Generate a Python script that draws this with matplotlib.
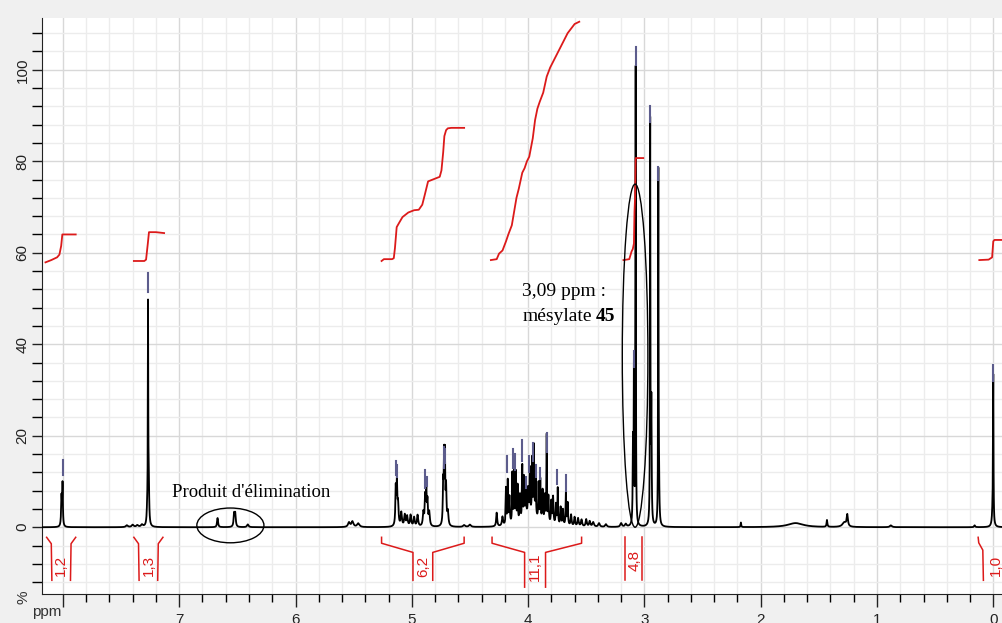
import numpy as np
import matplotlib
matplotlib.use('Agg')
import matplotlib.pyplot as plt
from matplotlib.patches import Ellipse
from matplotlib.ticker import MultipleLocator

# peak list: ppm, height (%), half width (ppm)
pk_8 = [(8.012, 6.5, 0.004), (8.003, 9.0, 0.003)]
pk_arom = [(7.45, 0.4, 0.01), (7.40, 0.5, 0.01), (7.36, 0.4, 0.01), (7.32, 0.5, 0.01),
           (7.268, 46.0, 0.002), (7.262, 9.0, 0.004), (7.275, 3.0, 0.005)]
pk_elim = [(6.67, 2.0, 0.005), (6.528, 2.8, 0.005), (6.518, 2.8, 0.005), (6.41, 0.6, 0.008)]
pk_55 = [(5.54, 1.0, 0.01), (5.51, 1.2, 0.01), (5.46, 0.8, 0.012)]
pk_513 = [(5.138, 8.0, 0.004), (5.128, 9.0, 0.004), (5.118, 4.5, 0.005),
          (5.09, 3.0, 0.006), (5.06, 2.5, 0.006), (5.04, 2.2, 0.006),
          (5.01, 2.5, 0.006), (4.98, 2.0, 0.006), (4.95, 2.5, 0.006)]
pk_488 = [(4.90, 3.0, 0.006), (4.885, 6.0, 0.004), (4.875, 7.0, 0.004),
          (4.865, 5.0, 0.004), (4.85, 3.0, 0.006)]
pk_472 = [(4.73, 9.0, 0.004), (4.722, 13.5, 0.003), (4.715, 14.0, 0.003),
          (4.705, 8.0, 0.004), (4.69, 3.0, 0.006), (4.55, 0.4, 0.01), (4.50, 0.5, 0.01)]
pk_4 = [(4.27, 3.0, 0.005), (4.22, 2.0, 0.006), (4.19, 8.0, 0.003), (4.175, 9.5, 0.003),
        (4.16, 6.0, 0.004), (4.135, 11.0, 0.003), (4.12, 12.0, 0.003), (4.105, 11.0, 0.003),
        (4.09, 8.0, 0.003), (4.07, 6.0, 0.004), (4.05, 12.0, 0.003), (4.035, 9.0, 0.003),
        (4.02, 7.0, 0.004), (4.00, 6.0, 0.004), (3.985, 10.0, 0.003), (3.965, 12.0, 0.003),
        (3.95, 15.0, 0.003), (3.935, 9.0, 0.003), (3.91, 8.0, 0.003), (3.895, 9.0, 0.003),
        (3.875, 7.0, 0.004), (3.855, 6.0, 0.004), (3.84, 19.0, 0.002), (3.825, 6.0, 0.004),
        (3.80, 5.0, 0.004), (3.785, 6.0, 0.004), (3.76, 4.5, 0.004), (3.745, 8.0, 0.003),
        (3.72, 4.0, 0.004), (3.70, 3.5, 0.004), (3.675, 7.0, 0.003), (3.66, 5.0, 0.004),
        (3.63, 2.5, 0.005), (3.60, 2.0, 0.005), (3.57, 1.8, 0.006), (3.54, 1.5, 0.006),
        (3.50, 1.6, 0.006), (3.47, 1.2, 0.006), (3.44, 1.0, 0.008), (3.39, 0.8, 0.008),
        (3.33, 0.6, 0.008), (3.97, 2.5, 0.06)]
pk_mes = [(3.20, 0.8, 0.008), (3.16, 0.6, 0.008), (3.098, 18.0, 0.003), (3.09, 34.0, 0.002),
          (3.075, 100.0, 0.002), (2.95, 87.5, 0.002), (2.94, 26.0, 0.003),
          (2.88, 75.0, 0.002), (2.875, 9.0, 0.004)]
pk_ali = [(2.17, 1.0, 0.003), (1.70, 0.9, 0.08), (1.43, 1.5, 0.004), (1.28, 1.0, 0.02),
          (1.255, 2.5, 0.006), (0.88, 0.4, 0.01), (0.16, 0.4, 0.005),
          (0.0, 30.0, 0.002), (0.004, 5.0, 0.006)]

# peak picking marks (ppm, from, to)
marks = [(8.003, 11.5, 14.8), (7.268, 51.5, 55.5), (5.135, 11.5, 14.5), (5.125, 11.0, 13.5),
         (4.885, 8.5, 12.5), (4.872, 9.0, 11.0), (4.725, 13.0, 17.5), (4.715, 14.0, 17.0),
         (4.18, 12.0, 15.5), (4.13, 13.0, 17.0), (4.11, 12.5, 16.0), (4.05, 14.5, 19.0),
         (4.02, 8.5, 11.0), (3.99, 12.0, 15.5), (3.96, 14.5, 18.5), (3.93, 11.0, 13.5),
         (3.90, 10.5, 13.0), (3.84, 16.5, 20.5), (3.75, 9.5, 12.5), (3.67, 8.0, 11.5),
         (3.09, 35.0, 38.5), (3.075, 101.0, 105.0), (2.95, 88.5, 92.0), (2.88, 75.8, 78.8),
         (0.0, 32.0, 35.5)]

# integral curves (ppm, level)
int_1 = ([8.15, 8.10, 8.05, 8.03, 8.015, 8.005, 7.99, 7.89], [57.9, 58.4, 59.0, 59.6, 61.5, 64.0, 64.0, 64.0])
int_2 = ([7.39, 7.30, 7.285, 7.27, 7.26, 7.20, 7.13], [58.2, 58.2, 58.5, 62.0, 64.5, 64.5, 64.3])
int_3 = ([5.26, 5.24, 5.17, 5.155, 5.145, 5.13, 5.11, 5.08, 5.03, 4.98, 4.94, 4.91, 4.89, 4.86,
          4.84, 4.80, 4.76, 4.745, 4.73, 4.72, 4.705, 4.69, 4.66, 4.55],
         [58.2, 58.6, 58.6, 58.8, 61.0, 65.6, 66.5, 67.8, 68.8, 69.3, 69.4, 70.5, 72.5, 75.6,
          75.8, 76.2, 76.6, 78.0, 82.0, 85.5, 86.8, 87.2, 87.3, 87.3])
int_4 = ([4.32, 4.27, 4.25, 4.22, 4.19, 4.17, 4.14, 4.12, 4.10, 4.08, 4.05, 4.03, 4.01, 3.99,
          3.96, 3.94, 3.92, 3.90, 3.87, 3.84, 3.81, 3.78, 3.75, 3.72, 3.69, 3.66, 3.63, 3.60, 3.56],
         [58.4, 58.6, 59.8, 60.5, 62.5, 64.0, 66.0, 69.0, 72.0, 74.0, 77.5, 78.5, 80.0, 81.0,
          85.0, 89.0, 91.5, 93.0, 95.0, 98.5, 100.5, 102.0, 103.5, 105.0, 106.5, 108.0, 109.0,
          110.0, 110.5])
int_5 = ([3.18, 3.13, 3.11, 3.10, 3.09, 3.085, 3.08, 3.075, 3.07, 3.01],
         [58.4, 58.6, 60.3, 60.8, 62.0, 69.0, 72.0, 80.7, 80.7, 80.7])
int_6 = ([0.12, 0.04, 0.01, 0.0, -0.01, -0.09], [58.4, 58.5, 59.0, 62.5, 62.8, 62.8])

int_labels = ['1,2', '1,3', '6,2', '11,1', '4,8', '1,0']
int_label_x = [8.02, 7.26, 4.90, 3.94, 3.085, -0.02]

red = '#dc1a1a'
plt.rcParams['font.family'] = ['Liberation Sans', 'DejaVu Sans']

fig = plt.figure(figsize=(10.02, 6.23), dpi=100, facecolor='#f0f0f0')
ax = fig.add_axes([0.0419, 0.0465, 0.9581, 0.9245])
ax.set_facecolor('white')

xs = np.linspace(-0.1, 8.2, 60000)
ys = np.zeros_like(xs)
for grp in [pk_8, pk_arom, pk_elim, pk_55, pk_513, pk_488, pk_472, pk_4, pk_mes, pk_ali]:
    for p, h, w in grp:
        ys += h * w**2 / ((xs - p)**2 + w**2)
ax.plot(xs, ys, color='black', lw=1.3, zorder=3)

for p, a, b in marks:
    ax.plot([p, p], [a, b], color='#5c5c8c', lw=1.5, zorder=4)

for xi, yi in [int_1, int_2, int_3, int_4, int_5, int_6]:
    ax.plot(xi, yi, color=red, lw=1.3, zorder=5)

# brackets under the integrals
def narrow(l, r, lab_x, label):
    ax.plot([l, l - 0.04, l - 0.045], [-2.2, -3.6, -11.6], color=red, lw=1.1)
    ax.plot([r, r + 0.04, r + 0.045], [-2.2, -3.6, -11.6], color=red, lw=1.1)
    ax.text(lab_x, -8.3, label, rotation=90, color=red, fontsize=11, ha='center', va='center')

def wide(l, r, il, ir, lab_x, label, bot):
    ax.plot([l, l, il, il], [-2.2, -3.5, -5.5, bot], color=red, lw=1.1)
    ax.plot([r, r, ir, ir], [-2.2, -3.5, -5.5, bot], color=red, lw=1.1)
    ax.text(lab_x, -8.6, label, rotation=90, color=red, fontsize=11, ha='center', va='center')

narrow(8.14, 7.89, int_label_x[0], int_labels[0])
narrow(7.39, 7.14, int_label_x[1], int_labels[1])
wide(5.26, 4.55, 4.99, 4.82, int_label_x[2], int_labels[2], -11.6)
wide(4.31, 3.54, 4.03, 3.85, int_label_x[3], int_labels[3], -13.1)
ax.plot([3.17, 3.17], [-2.2, -11.6], color=red, lw=1.1)
ax.plot([3.02, 3.02], [-2.2, -11.6], color=red, lw=1.1)
ax.text(int_label_x[4], -7.3, int_labels[4], rotation=90, color=red, fontsize=11, ha='center', va='center')
ax.plot([0.13, 0.125, 0.09, 0.085], [-2.2, -3.4, -5.0, -11.6], color=red, lw=1.1)
ax.text(int_label_x[5], -8.3, int_labels[5], rotation=90, color=red, fontsize=11, ha='center', va='center')

# annotations
ax.add_patch(Ellipse((6.56, 0.4), 0.577, 7.6, fill=False, ec='black', lw=1.0, zorder=6))
ax.add_patch(Ellipse((3.08, 37.5), 0.22, 75, fill=False, ec='black', lw=1.0, zorder=6))
serif = ['Liberation Serif', 'DejaVu Serif']
ax.text(7.06, 7.6, "Produit d'élimination", family=serif, fontsize=13.5, ha='left', va='center', zorder=7)
ax.text(4.05, 51.6, "3,09 ppm :", family=serif, fontsize=14, ha='left', va='center', zorder=7)
t = ax.text(4.05, 46.1, "mésylate", family=serif, fontsize=14, ha='left', va='center', zorder=7)
ax.annotate("45", xy=(1, 0), xycoords=t, xytext=(3, 0), textcoords='offset points',
            family=serif, fontsize=14, fontweight='bold', ha='left', va='bottom', zorder=7)

ax.set_xlim(8.18, -0.075)
ax.set_ylim(-14.6, 111.3)
ax.xaxis.set_major_locator(MultipleLocator(1))
ax.xaxis.set_minor_locator(MultipleLocator(0.2))
ax.yaxis.set_major_locator(MultipleLocator(20))
ax.yaxis.set_minor_locator(MultipleLocator(4))
ax.set_xticks(range(0, 9))
ax.set_xticklabels(['0', '1', '2', '3', '4', '5', '6', '7', ''])
ax.grid(which='major', color='#d8d8d8', lw=1.0, zorder=0)
ax.grid(which='minor', color='#ececec', lw=1.0, zorder=0)
ax.set_axisbelow(True)
for s in ['top', 'right']:
    ax.spines[s].set_visible(False)
ax.spines['left'].set_color('#222222')
ax.spines['bottom'].set_color('#222222')
ax.tick_params(axis='x', which='major', length=9, width=1, pad=5, labelsize=11, colors='#222222')
ax.tick_params(axis='x', which='minor', length=6, width=1)
ax.tick_params(axis='y', which='major', length=7, width=1, pad=2, labelsize=11, colors='#222222')
ax.tick_params(axis='y', which='minor', length=7, width=1)
for lab in ax.get_yticklabels():
    lab.set_rotation(90)
    lab.set_va('center')

fig.text(0.047, 0.018, 'ppm', fontsize=11, ha='center', va='center', color='#333333')
fig.text(0.023, 0.042, '%', fontsize=11, rotation=90, ha='center', va='center', color='#333333')

fig.savefig('out.png', dpi=100, facecolor=fig.get_facecolor())
